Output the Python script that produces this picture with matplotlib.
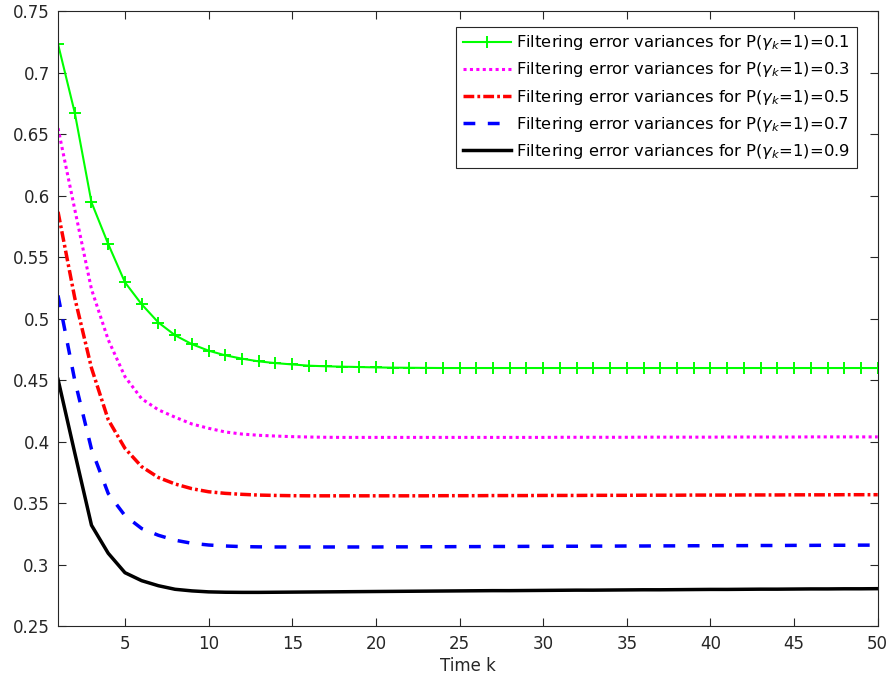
import numpy as np
import matplotlib
matplotlib.use('Agg')
import matplotlib.pyplot as plt
from matplotlib.ticker import FormatStrFormatter

plt.rcParams['font.family'] = ['DejaVu Sans']
plt.rcParams['mathtext.fontset'] = 'dejavusans'

# Time steps and filtering error variances for each P(gamma_k=1)
k = np.arange(1, 51)

var_01 = [0.7234, 0.6676, 0.5947, 0.5608, 0.5297, 0.5118, 0.4970, 0.4866, 0.4794, 0.4741,
          0.4703, 0.4676, 0.4654, 0.4640, 0.4629, 0.4619, 0.4614, 0.4611, 0.4608, 0.4605,
          0.4603, 0.4602, 0.4601, 0.4600, 0.4600, 0.4600, 0.4600, 0.4600, 0.4600, 0.4600,
          0.4600, 0.4600, 0.4600, 0.4600, 0.4600, 0.4600, 0.4600, 0.4600, 0.4600, 0.4600,
          0.4600, 0.4600, 0.4600, 0.4600, 0.4600, 0.4600, 0.4600, 0.4600, 0.4600, 0.4600]

var_03 = [0.6550, 0.5890, 0.5240, 0.4830, 0.4530, 0.4350, 0.4260, 0.4200, 0.4145, 0.4110,
          0.4080, 0.4063, 0.4053, 0.4047, 0.4042, 0.4039, 0.4037, 0.4036, 0.4036, 0.4036,
          0.4036, 0.4036, 0.4036, 0.4036, 0.4036, 0.4036, 0.4036, 0.4036, 0.4036, 0.4036,
          0.4037, 0.4037, 0.4037, 0.4037, 0.4037, 0.4038, 0.4038, 0.4038, 0.4038, 0.4038,
          0.4039, 0.4039, 0.4039, 0.4039, 0.4039, 0.4040, 0.4040, 0.4040, 0.4040, 0.4040]

var_05 = [0.5870, 0.5170, 0.4600, 0.4180, 0.3947, 0.3798, 0.3710, 0.3657, 0.3619, 0.3594,
          0.3581, 0.3573, 0.3567, 0.3564, 0.3562, 0.3561, 0.3561, 0.3561, 0.3561, 0.3561,
          0.3561, 0.3561, 0.3561, 0.3562, 0.3562, 0.3562, 0.3563, 0.3563, 0.3563, 0.3564,
          0.3564, 0.3564, 0.3565, 0.3565, 0.3565, 0.3566, 0.3566, 0.3566, 0.3567, 0.3567,
          0.3567, 0.3568, 0.3568, 0.3568, 0.3569, 0.3569, 0.3569, 0.3570, 0.3570, 0.3570]

var_07 = [0.5190, 0.4500, 0.3940, 0.3580, 0.3400, 0.3295, 0.3240, 0.3200, 0.3175, 0.3161,
          0.3153, 0.3148, 0.3146, 0.3145, 0.3145, 0.3145, 0.3145, 0.3145, 0.3145, 0.3145,
          0.3146, 0.3146, 0.3147, 0.3147, 0.3148, 0.3148, 0.3149, 0.3149, 0.3150, 0.3150,
          0.3151, 0.3151, 0.3152, 0.3152, 0.3153, 0.3153, 0.3154, 0.3154, 0.3155, 0.3155,
          0.3156, 0.3156, 0.3157, 0.3157, 0.3158, 0.3158, 0.3159, 0.3159, 0.3160, 0.3160]

var_09 = [0.4508, 0.3910, 0.3322, 0.3094, 0.2936, 0.2871, 0.2830, 0.2801, 0.2788, 0.2780,
          0.2777, 0.2776, 0.2776, 0.2777, 0.2778, 0.2779, 0.2780, 0.2781, 0.2782, 0.2783,
          0.2784, 0.2785, 0.2786, 0.2787, 0.2788, 0.2789, 0.2790, 0.2790, 0.2791, 0.2792,
          0.2793, 0.2794, 0.2794, 0.2795, 0.2796, 0.2797, 0.2797, 0.2798, 0.2799, 0.2800,
          0.2800, 0.2801, 0.2802, 0.2802, 0.2803, 0.2804, 0.2804, 0.2805, 0.2805, 0.2806]

probs = ['0.1', '0.3', '0.5', '0.7', '0.9']
labels = ['Filtering error variances for P($\\gamma_k$=1)=' + p for p in probs]

fig = plt.figure(figsize=(8.9, 6.79), dpi=100)
ax = fig.add_axes([0.0652, 0.0776, 0.921, 0.9057])

ax.plot(k, var_01, color=(0, 1, 0), lw=1.5, marker='+', ms=9, mew=1.4, label=labels[0])
ax.plot(k, var_03, color=(1, 0, 1), lw=2.2, ls=(0, (1, 1.1)), label=labels[1])
ax.plot(k, var_05, color=(1, 0, 0), lw=2.5, ls=(0, (3.1, 0.9, 0.8, 0.9)), label=labels[2])
ax.plot(k, var_07, color=(0, 0, 1), lw=2.5, ls=(0, (3.4, 3.6)), label=labels[3])
ax.plot(k, var_09, color='black', lw=2.5, label=labels[4])

ax.set_xlim(1, 50)
ax.set_ylim(0.25, 0.75)
ax.set_xticks(np.arange(5, 51, 5))
ax.set_yticks(np.arange(0.25, 0.751, 0.05))
ax.yaxis.set_major_formatter(FormatStrFormatter('%g'))
ax.tick_params(direction='in', length=6, width=0.8, colors='#262626',
               labelsize=12, top=True, right=True, pad=6)
for s in ax.spines.values():
    s.set_color('#262626')
    s.set_linewidth(0.8)
ax.set_xlabel('Time k', fontsize=12, color='#262626', labelpad=3)

leg = ax.legend(loc='upper right', bbox_to_anchor=(0.9744, 0.975), borderaxespad=0,
                fontsize=11.8, handlelength=2.9, handletextpad=0.35, labelspacing=0.5,
                fancybox=False, framealpha=1, edgecolor='#262626', borderpad=0.4)
leg.get_frame().set_linewidth(0.8)

fig.savefig('out.png', dpi=100)
